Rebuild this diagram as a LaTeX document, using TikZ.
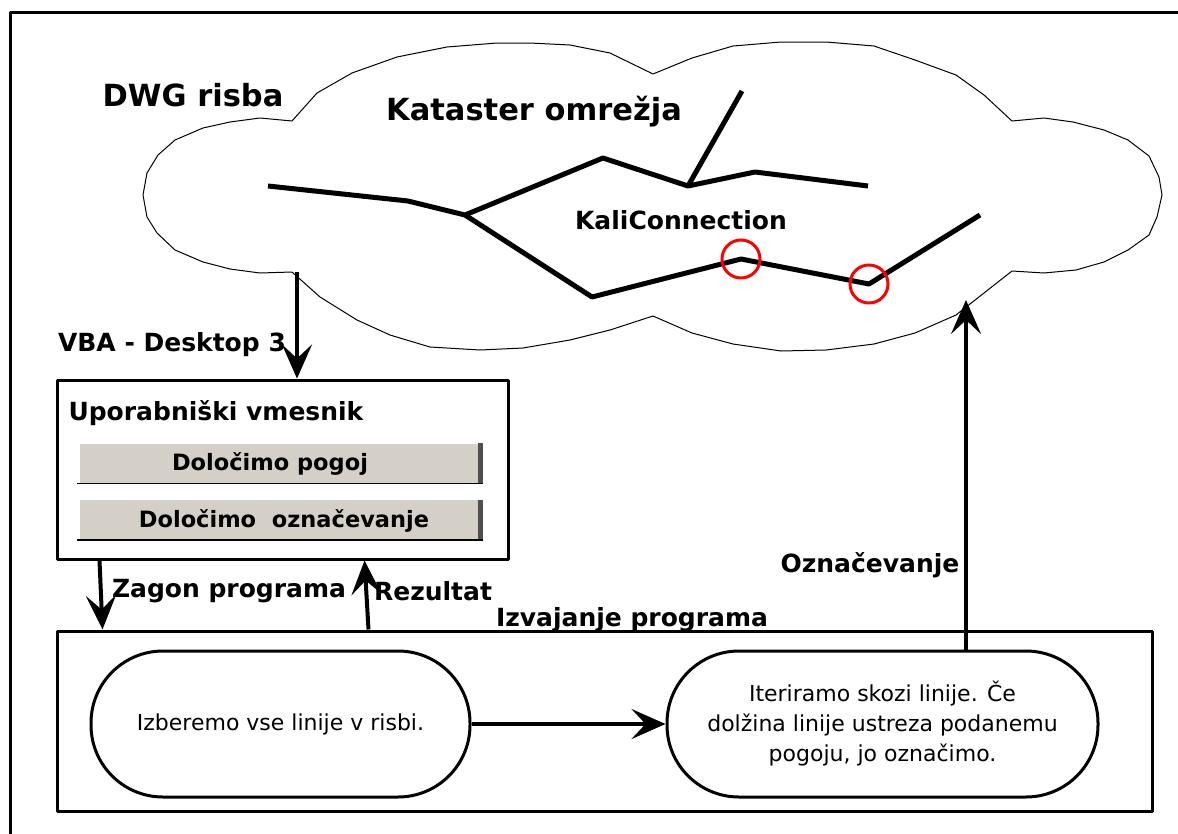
\documentclass[tikz,border=0pt]{standalone}
\usepackage{fontspec}
\setmainfont{DejaVu Sans}
\usetikzlibrary{positioning,arrows.meta,calc}
\definecolor{btngray}{HTML}{D4D0C8}
\definecolor{btnshade}{HTML}{505050}

\begin{document}
\begin{tikzpicture}[x=1pt,y=-1pt,
line join=round,
frame/.style={draw, line width=3pt, inner sep=0pt},
pill/.style={draw, line width=3pt, rounded corners=72pt, minimum height=146pt, align=center, font=\fontsize{22}{30}\selectfont},
lbl/.style={font=\fontsize{25}{30}\selectfont\bfseries},
big/.style={font=\fontsize{30.5}{36}\selectfont\bfseries},
btn/.style={fill=btngray, minimum width=398pt, minimum height=40pt, inner sep=0pt},
btntext/.style={font=\fontsize{22.5}{26}\selectfont\bfseries},
net/.style={line width=5pt},
hit/.style={red, line width=3pt},
arr/.style={-{Stealth[length=34pt,width=30pt,inset=14pt]}, line width=4pt}
]
\useasboundingbox (0,0) rectangle (1178,833);
\draw[line width=3pt] (10,840) -- (10,12) -- (1190,12);

\draw[line width=1pt] (292,121) -- (317,93) -- (352,73) -- (397,57) -- (447,47) -- (497,43) -- (530,43) -- (570,45) -- (610,53) -- (653,74)
  -- (692,58) -- (733,46) -- (781,42) -- (826,42) -- (874,46) -- (915,60) -- (956,75) -- (984,95) -- (1012,121)
  -- (1044,118) -- (1073,122) -- (1104,130) -- (1128,140) -- (1149,156) -- (1159,177) -- (1162,195) -- (1157,217) -- (1149,235) -- (1128,250) -- (1104,262) -- (1076,270) -- (1044,273) -- (1012,271)
  -- (984,293) -- (956,315) -- (915,333) -- (874,344) -- (826,350) -- (781,351) -- (733,344) -- (692,333) -- (653,316)
  -- (610,330) -- (570,340) -- (523,348) -- (480,350) -- (430,347) -- (390,335) -- (357,320) -- (320,297) -- (292,272)
  -- (260,273) -- (230,269) -- (203,262) -- (175,250) -- (157,233) -- (147,217) -- (143,195) -- (147,173) -- (158,155) -- (175,140) -- (203,128) -- (230,122) -- (260,118) -- cycle;

\draw[net] (268,186) -- (408,201) -- (465,215) -- (603,158) -- (688,186) -- (755,172) -- (868,186);
\draw[net] (688,186) -- (742,91);
\draw[net] (465,215) -- (592,297) -- (741,259) -- (869,284) -- (980,215);
\draw[hit] (741,259) circle (19pt);
\draw[hit] (869,284) circle (19pt);

\node[big] (dwg) at (193,95) {DWG risba};
\node[big] (kat) at (534,112) {Kataster omrežja};
\node[lbl] (kali) at (681,220) {KaliConnection};
\node[lbl] (vba) at (172,345) {VBA - Desktop 3};

\node[frame, minimum width=451pt, minimum height=179pt] (ui) at (282.5,469.5) {};
\node[lbl, anchor=west] (uit) at (65,413) {Uporabniški vmesnik};
\node[btn] (cond) at (279,463.5) {};
\node[btn] (mark) at (279,520) {};
\foreach \b in {cond,mark} {
  \fill[btnshade] (\b.north east) rectangle ($(\b.south east)+(5,0)$);
  \draw[line width=1.5pt] ($(\b.south west)+(-3,0)$) -- ($(\b.south east)+(5,0)$);
}
\node[btntext] (condt) at (270,464) {Določimo pogoj};
\node[btntext] (markt) at (284,521) {Določimo\hspace{0.7em}označevanje};

\node[frame, minimum width=1095pt, minimum height=180pt] (exe) at (604.5,721) {};
\node[pill, minimum width=379pt] (sel) at (280.5,724) {Izberemo vse linije v risbi.};
\node[pill, minimum width=431pt] (iter) at (882.5,724) {Iteriramo skozi linije. Če\\dolžina linije ustreza podanemu\\pogoju, jo označimo.};

\coordinate (cloudS) at (297,272);
\coordinate (cloudE) at (966,300);
\draw[arr] (cloudS) -- (cloudS |- ui.north);
\draw[arr] ($(ui.south west)+(44,0)$) -- ($(exe.north west)+(47,0)$);
\draw[arr] ($(exe.north west)+(313,0)$) -- ($(ui.south west)+(309,0)$);
\draw[arr] (sel) -- (iter);
\draw[arr] (iter.north -| cloudE) -- (cloudE);

\node[lbl] (zag) at (229,591) {Zagon programa};
\node[lbl] (rez) at (433,591) {Rezultat};
\node[lbl] (izv) at (632,620) {Izvajanje programa};
\node[lbl] (ozn) at (870,565) {Označevanje};
\end{tikzpicture}
\end{document}
